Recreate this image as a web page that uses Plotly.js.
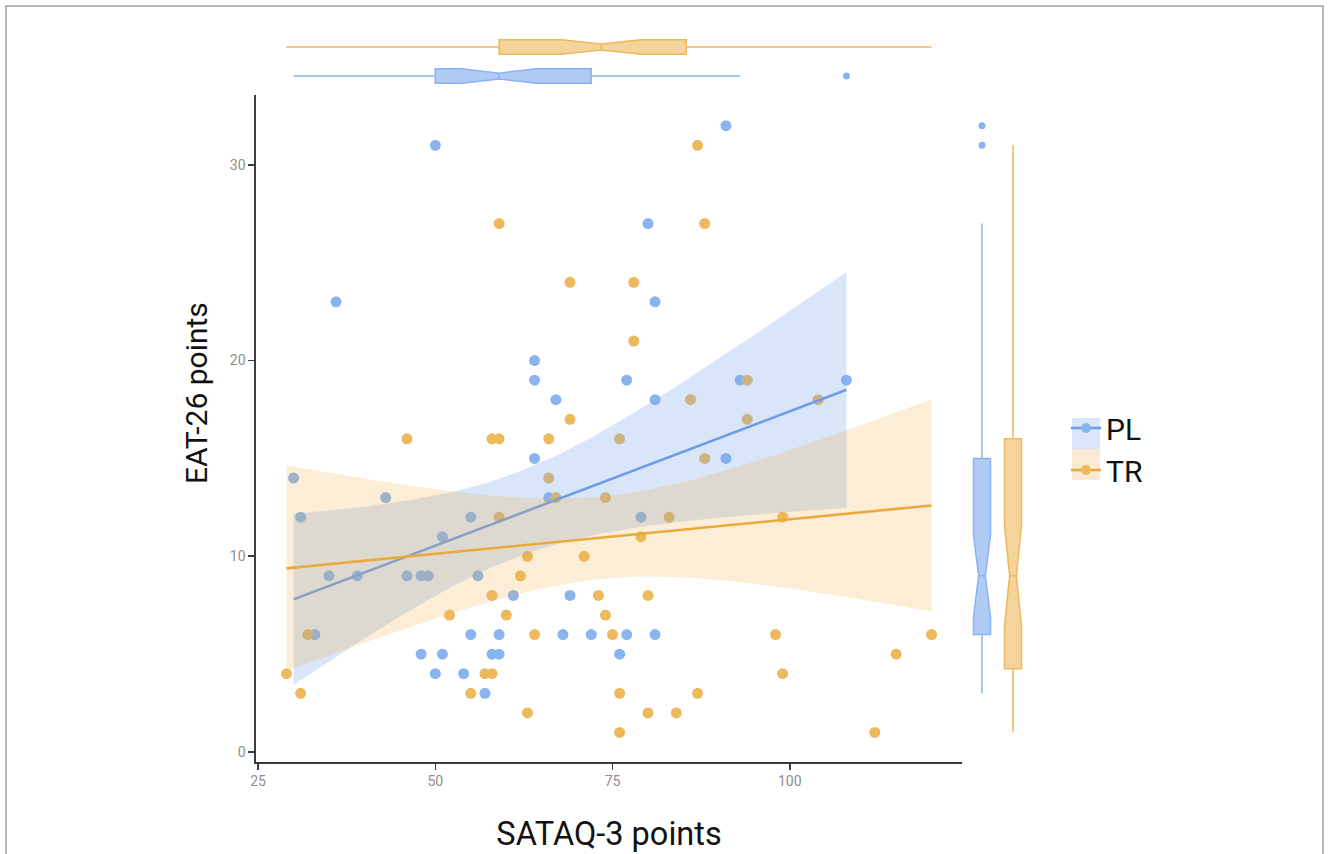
<!DOCTYPE html>
<html>
<head>
<meta charset="utf-8">
<script src="https://cdn.plot.ly/plotly-3.0.1.min.js"></script>
<style>
html,body{margin:0;padding:0;background:#ffffff;}
#chart{width:1330px;height:854px;}
</style>
</head>
<body>
<div id="chart"></div>
<script>
// ---------- data ----------
const groupNames = ['PL', 'TR'];

// PL group: SATAQ-3 points (x) and EAT-26 points (y)
const plSataq = [50, 36, 64, 64, 67, 91, 80, 81, 77, 81, 93, 108, 64, 30, 43, 66, 31, 55, 51, 35, 39, 46, 48, 49, 56, 61, 69, 33, 55, 59, 68, 72, 77, 81, 48, 51, 58, 59, 76, 50, 54, 57, 91, 79];
const plEat    = [31, 23, 20, 19, 18, 32, 27, 23, 19, 18, 19, 19, 15, 14, 13, 13, 12, 12, 11,  9,  9,  9,  9,  9,  9,  8,  8,  6,  6,  6,  6,  6,  6,  6,  5,  5,  5,  5,  5,  4,  4,  3, 15, 12];

// TR group
const trSataq = [59, 69, 69, 87, 88, 78, 78, 86, 94, 104, 94, 46, 58, 59, 66, 66, 67, 74, 59, 63, 71, 62, 58, 73, 52, 60, 74, 32, 64, 75, 29, 57, 58, 31, 55, 63, 76, 88, 83, 99, 79, 80, 98, 120, 115, 99, 76, 87, 80, 84, 76, 112];
const trEat    = [27, 24, 17, 31, 27, 24, 21, 18, 19, 18, 17, 16, 16, 16, 16, 14, 13, 13, 12, 10, 10,  9,  8,  8,  7,  7,  7,  6,  6,  6,  4,  4,  4,  3,  3,  2, 16, 15, 12, 12, 11,  8,  6,  6,  5,  4,  3,  3,  2,  2,  1,  1];

// marginal box plot statistics (PL, TR)
const sataqLowerFence = [30, 29];
const sataqQ1         = [50, 59];
const sataqMedian     = [59, 73.4];
const sataqQ3         = [72, 85.4];
const sataqUpperFence = [93, 120];
const sataqNotch      = [5.2, 5.6];
const sataqOutliersPL = [108];

const eatLowerFence = [3, 1];
const eatQ1         = [6, 4.25];
const eatMedian     = [9, 9];
const eatQ3         = [15, 16];
const eatUpperFence = [27, 31];
const eatNotch      = [2.1, 2.6];
const eatOutliersPL = [31, 32];

const xTicks = [25, 50, 75, 100];
const yTicks = [0, 10, 20, 30];

// ---------- styles ----------
const W = 1330, H = 854;
const col = {
  PL: {point: '#8AB4F0', line: '#6E9DE8', ribbon: 'rgba(120,165,235,0.28)',
       boxFill: 'rgba(138,180,240,0.68)', boxLine: '#8AB4F0', key: '#DAE6F9'},
  TR: {point: '#EDB95C', line: '#E9AA3C', ribbon: 'rgba(235,175,70,0.22)',
       boxFill: 'rgba(237,185,92,0.62)', boxLine: '#EDB95C', key: '#F9EBD3'}
};

// ---------- linear fit with 95% confidence band (as geom_smooth(method = lm)) ----------
function tQuant(df) {
  const z = 1.959964;
  return z + (Math.pow(z,3) + z) / (4 * df) +
         (5 * Math.pow(z,5) + 16 * Math.pow(z,3) + 3 * z) / (96 * df * df);
}
function linFit(xs, ys) {
  const n = xs.length;
  const mx = xs.reduce((a, b) => a + b, 0) / n;
  const my = ys.reduce((a, b) => a + b, 0) / n;
  let sxx = 0, sxy = 0;
  for (let i = 0; i < n; i++) { sxx += (xs[i]-mx)*(xs[i]-mx); sxy += (xs[i]-mx)*(ys[i]-my); }
  const b = sxy / sxx, a = my - b * mx;
  let sse = 0;
  for (let i = 0; i < n; i++) { const r = ys[i] - (a + b * xs[i]); sse += r * r; }
  const s = Math.sqrt(sse / (n - 2));
  const t = tQuant(n - 2);
  const lo = Math.min(...xs), hi = Math.max(...xs);
  const gx = [], gy = [], gl = [], gu = [];
  for (let k = 0; k < 80; k++) {
    const x = lo + (hi - lo) * k / 79;
    const y = a + b * x;
    const se = s * Math.sqrt(1 / n + (x - mx) * (x - mx) / sxx);
    gx.push(x); gy.push(y); gl.push(y - t * se); gu.push(y + t * se);
  }
  return {x: gx, y: gy, lower: gl, upper: gu};
}

const series = {
  PL: {x: plSataq, y: plEat},
  TR: {x: trSataq, y: trEat}
};

const traces = [];

// scatter points (drawn first, ribbons are laid over them)
groupNames.forEach(g => {
  traces.push({
    type: 'scatter', mode: 'markers', x: series[g].x, y: series[g].y,
    xaxis: 'x', yaxis: 'y', name: g, showlegend: false, hoverinfo: 'x+y',
    marker: {color: col[g].point, size: 11, line: {width: 0}}
  });
});

// ribbons and fit lines
groupNames.forEach(g => {
  const f = linFit(series[g].x, series[g].y);
  traces.push({type: 'scatter', mode: 'lines', x: f.x, y: f.lower, xaxis: 'x', yaxis: 'y',
    line: {width: 0, color: col[g].line}, showlegend: false, hoverinfo: 'skip'});
  traces.push({type: 'scatter', mode: 'lines', x: f.x, y: f.upper, xaxis: 'x', yaxis: 'y',
    fill: 'tonexty', fillcolor: col[g].ribbon,
    line: {width: 0, color: col[g].line}, showlegend: false, hoverinfo: 'skip'});
  traces.push({type: 'scatter', mode: 'lines', x: f.x, y: f.y, xaxis: 'x', yaxis: 'y',
    line: {width: 2.6, color: col[g].line}, showlegend: false, hoverinfo: 'skip'});
});

// right marginal boxes (EAT-26)
groupNames.forEach((g, i) => {
  traces.push({
    type: 'box', x: [i], xaxis: 'x2', yaxis: 'y',
    q1: [eatQ1[i]], median: [eatMedian[i]], q3: [eatQ3[i]],
    lowerfence: [eatLowerFence[i]], upperfence: [eatUpperFence[i]],
    notched: true, notchspan: [eatNotch[i]], notchwidth: 0.3,
    width: 0.55, whiskerwidth: 0, boxpoints: false,
    fillcolor: col[g].boxFill, line: {color: col[g].boxLine, width: 1.5},
    showlegend: false, hoverinfo: 'skip', name: g
  });
});
traces.push({
  type: 'scatter', mode: 'markers', x: eatOutliersPL.map(() => 0), y: eatOutliersPL,
  xaxis: 'x2', yaxis: 'y', showlegend: false, hoverinfo: 'skip',
  marker: {color: col.PL.point, size: 7}
});

// top marginal boxes (SATAQ-3)
groupNames.forEach((g, i) => {
  traces.push({
    type: 'box', orientation: 'h', y: [i], xaxis: 'x', yaxis: 'y3',
    q1: [sataqQ1[i]], median: [sataqMedian[i]], q3: [sataqQ3[i]],
    lowerfence: [sataqLowerFence[i]], upperfence: [sataqUpperFence[i]],
    notched: true, notchspan: [sataqNotch[i]], notchwidth: 0.3,
    width: 0.5, whiskerwidth: 0, boxpoints: false,
    fillcolor: col[g].boxFill, line: {color: col[g].boxLine, width: 1.5},
    showlegend: false, hoverinfo: 'skip', name: g
  });
});
traces.push({
  type: 'scatter', mode: 'markers', x: sataqOutliersPL, y: sataqOutliersPL.map(() => 0),
  xaxis: 'x', yaxis: 'y3', showlegend: false, hoverinfo: 'skip',
  marker: {color: col.PL.point, size: 7}
});

// legend entries
groupNames.forEach(g => {
  traces.push({
    type: 'scatter', mode: 'lines+markers', x: [null], y: [null], name: g,
    xaxis: 'x', yaxis: 'y', showlegend: true, hoverinfo: 'skip',
    line: {color: col[g].line, width: 2.6}, marker: {color: col[g].point, size: 10}
  });
});

const axisStyle = {
  showline: true, linecolor: '#3c3c3c', linewidth: 1.6,
  ticks: 'outside', ticklen: 6, tickwidth: 1.6, tickcolor: '#3c3c3c',
  tickfont: {family: 'Roboto, sans-serif', size: 14, color: '#8e8e8e'},
  showgrid: false, zeroline: false, fixedrange: true
};

const layout = {
  width: W, height: H,
  margin: {l: 0, r: 0, t: 0, b: 0},
  paper_bgcolor: '#ffffff', plot_bgcolor: 'rgba(0,0,0,0)',
  showlegend: true,
  font: {family: 'Roboto, sans-serif', color: '#111111'},
  xaxis: Object.assign({}, axisStyle, {
    domain: [256 / W, 962 / W], range: [24.7, 124.3], anchor: 'y',
    tickmode: 'array', tickvals: xTicks, ticktext: xTicks.map(String),
    title: {text: 'SATAQ-3 points', font: {family: 'Roboto, sans-serif', size: 32.5, color: '#111111'}, standoff: 34}
  }),
  yaxis: Object.assign({}, axisStyle, {
    domain: [1 - 762 / H, 1 - 95 / H], range: [-0.51, 33.57], anchor: 'x',
    tickmode: 'array', tickvals: yTicks, ticktext: yTicks.map(String)
  }),
  xaxis2: {domain: [960 / W, 1035 / W], range: [-0.71, 1.71], anchor: 'y', visible: false, fixedrange: true},
  yaxis3: {domain: [1 - 92 / H, 1 - 30 / H], range: [-0.55, 1.586], anchor: 'x', visible: false, fixedrange: true},
  legend: {
    x: 1066 / W, y: 1 - 402 / H, xanchor: 'left', yanchor: 'top',
    traceorder: 'normal',
    bgcolor: 'rgba(0,0,0,0)', borderwidth: 0, itemwidth: 30,
    font: {family: 'Roboto, sans-serif', size: 30, color: '#111111'}
  },
  annotations: [{
    text: 'EAT-26 points', xref: 'paper', yref: 'paper',
    x: 197 / W, y: 1 - 393 / H, xanchor: 'center', yanchor: 'middle',
    textangle: -90, showarrow: false,
    font: {family: 'Roboto, sans-serif', size: 30, color: '#111111'}
  }],
  shapes: [
    {type: 'rect', xref: 'paper', yref: 'paper', x0: 6 / W, x1: 1323 / W, y0: -0.02, y1: 1 - 6 / H,
     line: {color: '#a0a0a0', width: 1.5}, fillcolor: 'rgba(0,0,0,0)', layer: 'above'},
    {type: 'rect', xref: 'paper', yref: 'paper', x0: 1072 / W, x1: 1100 / W, y0: 1 - 449 / H, y1: 1 - 418 / H,
     line: {width: 0}, fillcolor: col.PL.key, layer: 'above'},
    {type: 'rect', xref: 'paper', yref: 'paper', x0: 1072 / W, x1: 1100 / W, y0: 1 - 480 / H, y1: 1 - 449 / H,
     line: {width: 0}, fillcolor: col.TR.key, layer: 'above'}
  ]
};

Plotly.newPlot('chart', traces, layout, {displayModeBar: false, staticPlot: true});
</script>
</body>
</html>
